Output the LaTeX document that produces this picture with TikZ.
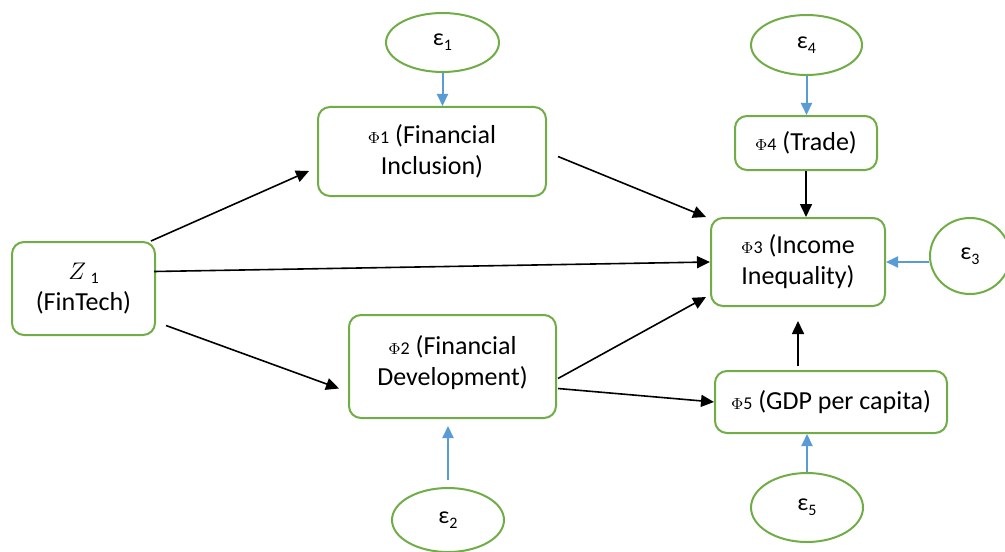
\documentclass[tikz,border=0pt]{standalone}
\usepackage{fontspec}
\setmainfont{Carlito}
\usetikzlibrary{shapes.geometric,arrows.meta}
\definecolor{boxgreen}{RGB}{112,173,71}
\definecolor{errblue}{RGB}{91,155,213}
\newcommand{\phiv}[1]{{\footnotesize$\Phi$}{\small #1}}
\newcommand{\epsv}[1]{{\large ε}\raisebox{-0.4ex}{\footnotesize #1}}

\begin{document}
\begin{tikzpicture}[x=0.5pt, y=-0.5pt, font=\fontsize{13}{15.5}\selectfont,
  var/.style={draw=boxgreen, line width=1pt, rounded corners=6pt, align=center, inner sep=0pt},
  err/.style={draw=boxgreen, line width=1pt, ellipse, inner sep=0pt},
  link/.style={line width=0.8pt, -{Triangle[length=6.5pt,width=6pt]}},
  errlink/.style={line width=1pt, errblue, -{Triangle[length=6pt,width=5.5pt]}}]
\useasboundingbox (0,0) rectangle (1005,551);

\node[var, minimum width=71.5pt, minimum height=46.5pt] (Z1) at (83.5,288.5) {$Z$\,\raisebox{-0.3ex}{\footnotesize 1}\\(FinTech)};
\node[var, minimum width=114pt, minimum height=44.5pt] (Phi1) at (432,151.5) {\phiv{1} (Financial\\Inclusion)};
\node[var, minimum width=103.5pt, minimum height=51.5pt] (Phi2) at (452.5,366.5) {\phiv{2} (Financial\\Development)\rule[-6pt]{0pt}{1pt}};
\node[var, minimum width=87pt, minimum height=44pt] (Phi3) at (798,262) {\phiv{3} (Income\\Inequality)};
\node[var, minimum width=71pt, minimum height=27pt] (Phi4) at (806,143) {\phiv{4} (Trade)};
\node[var, minimum width=116pt, minimum height=31pt] (Phi5) at (831,402) {\phiv{5} (GDP per capita)};

\node[err, minimum width=56.5pt, minimum height=29.5pt] (eps1) at (442.5,42.5) {\epsv{1}};
\node[err, minimum width=56pt, minimum height=32pt] (eps2) at (448,520) {\epsv{2}};
\node[err, minimum width=40pt, minimum height=38pt] (eps3) at (970,256) {\epsv{3}};
\node[err, minimum width=55.5pt, minimum height=30pt] (eps4) at (806.5,45) {\epsv{4}};
\node[err, minimum width=56pt, minimum height=34.5pt] (eps5) at (807,507.5) {\epsv{5}};

\draw[link] ([shift={(-5,0)}]Z1.north east) -- ([shift={(-8,-26)}]Phi1.south west);
\draw[link] ([shift={(-2,-17)}]Z1.east) -- (Phi3.west);
\draw[link] ([shift={(10,37)}]Z1.east) -- ([shift={(-9,22)}]Phi2.west);
\draw[link] ([shift={(11,5)}]Phi1.east) -- ([shift={(-4,0)}]Phi3.north west);
\draw[link] ([shift={(1,12)}]Phi2.east) -- ([shift={(-4,-10)}]Phi3.south west);
\draw[link] ([shift={(1,22)}]Phi2.east) -- (Phi5.west);
\draw[link] (Phi4.south) -- (Phi4.south |- Phi3.north);
\draw[link, shorten <=2pt, shorten >=7pt] (Phi5.north -| Phi3.south) -- (Phi3.south);

\draw[errlink] (eps1.south) -- (eps1.south |- Phi1.north);
\draw[errlink] (eps4.south) -- (eps4.south |- Phi4.north);
\draw[errlink] (Phi3.east -| eps3.west) -- (Phi3.east);
\draw[errlink, shorten <=3.5pt, shorten >=3.5pt] (eps2.north) -- (eps2.north |- Phi2.south);
\draw[errlink] (eps5.north) -- (eps5.north |- Phi5.south);
\end{tikzpicture}
\end{document}
